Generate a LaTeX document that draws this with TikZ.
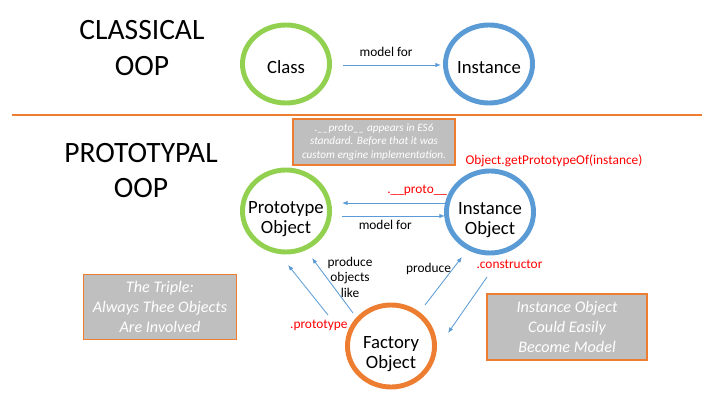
\documentclass[tikz,border=0pt]{standalone}
\usepackage{fontspec}
\setmainfont{Carlito}
\usepackage{tikz}
\usetikzlibrary{arrows.meta,positioning,shapes.geometric,calc}

\definecolor{cgreen}{RGB}{146,208,80}
\definecolor{cblue}{RGB}{91,155,213}
\definecolor{corange}{RGB}{237,125,49}
\definecolor{cgray}{RGB}{191,191,191}

\begin{document}
\begin{tikzpicture}[
  x=0.025cm,y=-0.025cm,
  font=\fontsize{9.5}{11}\selectfont,
  title/.style={align=center,font=\fontsize{21}{25}\selectfont},
  obj/.style={ellipse,draw,line width=3.5pt,minimum width=2.175cm,
              minimum height=2.05cm,inner xsep=-10pt,inner ysep=0pt,
              text height=34pt,align=center,
              font=\fontsize{13.3}{14.4}\selectfont},
  note/.style={draw=corange,fill=cgray,line width=0.8pt,align=center,
               text=white,inner sep=0pt,
               font=\itshape\fontsize{11.5}{14.2}\selectfont},
  flow/.style={-{Latex[length=1.4mm,width=1.1mm]},draw=cblue,line width=0.6pt},
  lbl/.style={inner sep=1pt},
  rlbl/.style={lbl,text=red}]

\useasboundingbox (0,0) rectangle (720,405);

% ---- titles + separator -----------------------------------------------
\node[title] (classical)  at (142,48)    {CLASSICAL\\OOP};
\node[title] (prototypal) at (141,170.5) {PROTOTYPAL\\OOP};
\draw[corange,line width=2pt] (12,115) -- (702,115);

% ---- nodes ------------------------------------------------------------
\node[obj,draw=cgreen,minimum height=1.95cm,text height=13pt] (cls)  at (286,64) {Class};
\node[obj,draw=cblue,minimum height=1.95cm,text height=13pt]  (inst) at (489,64) {Instance};
\node[obj,draw=cgreen]  (proto) at (286,211) {Prototype\\Object};
\node[obj,draw=cblue]   (obj)   at (490,212) {Instance\\Object};
\node[obj,draw=corange] (fact)  at (391,346) {Factory\\Object};

% ---- notes ------------------------------------------------------------
\node[note,minimum width=4.05cm,minimum height=1.15cm,
      font=\itshape\fontsize{8}{9.5}\selectfont] (es6) at (374,142)
  {.\_\_proto\_\_ appears in ES6\\standard. Before that it was\\custom engine implementation.};
\node[note,minimum width=3.83cm,minimum height=1.63cm] (triple) at (160,307)
  {The Triple:\\Always Thee Objects\\Are Involved};
\node[note,minimum width=4cm,minimum height=1.65cm] (model) at (567,327)
  {Instance Object\\Could Easily\\Become Model};
\node[rlbl] (getproto) at (554,161) {Object.getPrototypeOf(instance)};

% ---- edges ------------------------------------------------------------
\draw[flow] ($(cls)+(57,1)$) -- ($(inst)+(-48,1)$)
      node[lbl,pos=0.44,above=4.5pt] {model for};
\draw[flow] ($(obj)+(-45,-9)$) -- ($(proto)+(56,-8)$)
      node[rlbl,pos=0.27,above=4pt] {.\_\_proto\_\_};
\draw[flow] ($(proto)+(56,5)$) -- ($(obj)+(-45,4)$)
      node[lbl,pos=0.42,below=2pt] {model for};
\draw[flow] ($(fact)+(-63,-31)$) -- ($(proto)+(2,54)$)
      node[rlbl,pos=0,below=2.5pt,xshift=-6.5pt] {.prototype};
\draw[flow] ($(fact)+(-38,-33)$) -- ($(proto)+(26,47)$)
      node[lbl,midway,align=center,xshift=12.5pt,yshift=6pt] {produce\\objects\\like};
\draw[flow] ($(fact)+(34,-41)$) -- ($(obj)+(-28,45)$)
      node[lbl,pos=0.75,left] {produce};
\draw[flow] ($(obj)+(-3,65)$) -- ($(fact)+(57,-13)$)
      node[rlbl,pos=0,above=4.5pt,xshift=16pt] {.constructor};
\end{tikzpicture}
\end{document}
